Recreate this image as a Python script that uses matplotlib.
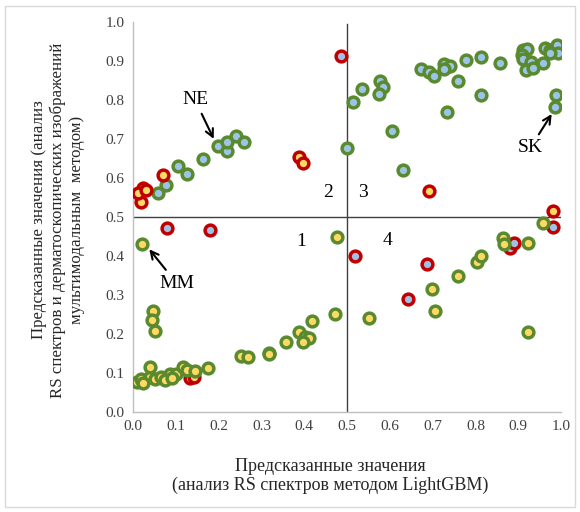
import matplotlib
matplotlib.use("Agg")
import matplotlib.pyplot as plt
from matplotlib.patches import Rectangle

plt.rcParams['font.family'] = ['Liberation Serif', 'DejaVu Serif']

# Correct, high-confidence predictions (green edge, blue fill)
gb_x = [0.058, 0.078, 0.104, 0.125, 0.163, 0.199, 0.219, 0.22, 0.241, 0.259,
        0.5, 0.513, 0.534, 0.577, 0.585, 0.575, 0.604, 0.632, 0.674, 0.692,
        0.704, 0.727, 0.741, 0.727, 0.76, 0.733, 0.778, 0.812, 0.812, 0.857,
        0.912, 0.92, 0.908, 0.912, 0.931, 0.918, 0.935, 0.959, 0.963, 0.974,
        0.99, 0.994, 0.974, 0.988, 0.986]
gb_y = [0.561, 0.582, 0.632, 0.61, 0.648, 0.682, 0.67, 0.693, 0.708, 0.693,
        0.676, 0.796, 0.828, 0.849, 0.834, 0.815, 0.721, 0.62, 0.879, 0.871,
        0.862, 0.892, 0.887, 0.879, 0.849, 0.768, 0.902, 0.91, 0.814, 0.894,
        0.928, 0.93, 0.915, 0.904, 0.898, 0.877, 0.882, 0.894, 0.933, 0.928,
        0.941, 0.92, 0.92, 0.813, 0.781]

# Misclassified (red edge, blue fill)
rb_x = [0.485, 0.08, 0.18, 0.519, 0.688, 0.643, 0.881, 0.89, 0.981]
rb_y = [0.913, 0.471, 0.467, 0.4, 0.379, 0.291, 0.42, 0.434, 0.474]

# Misclassified (red edge, yellow fill)
ry_x = [0.018, 0.023, 0.012, 0.031, 0.07, 0.388, 0.398, 0.692, 0.982, 0.133, 0.143]
ry_y = [0.539, 0.574, 0.561, 0.569, 0.608, 0.655, 0.638, 0.567, 0.516, 0.087, 0.09]

# Correct (green edge, yellow fill)
gy_x = [0.02, 0.476, 0.046, 0.044, 0.051, 0.472, 0.418, 0.389, 0.402, 0.412,
        0.398, 0.357, 0.318, 0.317, 0.252, 0.269, 0.175, 0.010, 0.019, 0.039,
        0.039, 0.051, 0.066, 0.086, 0.101, 0.117, 0.125, 0.144, 0.023, 0.074,
        0.09, 0.552, 0.698, 0.706, 0.76, 0.803, 0.812, 0.865, 0.867, 0.924,
        0.922, 0.959]
gy_y = [0.432, 0.448, 0.259, 0.235, 0.208, 0.251, 0.234, 0.206, 0.193, 0.189,
        0.18, 0.18, 0.152, 0.148, 0.144, 0.142, 0.112, 0.078, 0.084, 0.091,
        0.115, 0.084, 0.091, 0.097, 0.097, 0.116, 0.108, 0.106, 0.075, 0.082,
        0.086, 0.242, 0.315, 0.26, 0.35, 0.384, 0.4, 0.445, 0.432, 0.434,
        0.206, 0.485]

ticks = [0.0, 0.1, 0.2, 0.3, 0.4, 0.5, 0.6, 0.7, 0.8, 0.9, 1.0]
tick_labels = [f"{t:.1f}" for t in ticks]

GREEN = "#5a8a2e"
RED = "#c00000"
BLUE = "#9dc3e6"
YELLOW = "#ffd966"

fig = plt.figure(figsize=(5.8, 5.12), dpi=100)
ax = fig.add_axes([133 / 580, 1 - 412 / 512, 428 / 580, 390 / 512])

# Quadrant dividers
ax.plot([0, 1], [0.5, 0.5], color="#404040", lw=1.0, zorder=1)
ax.plot([0.5, 0.5], [0, 0.995], color="#404040", lw=1.0, zorder=1)

ms = 60
ew = 2.5
ax.scatter(gb_x, gb_y, s=ms, facecolor=BLUE, edgecolor=GREEN, linewidths=ew, zorder=3)
ax.scatter(rb_x, rb_y, s=ms, facecolor=BLUE, edgecolor=RED, linewidths=ew, zorder=3)
ax.scatter(ry_x, ry_y, s=ms, facecolor=YELLOW, edgecolor=RED, linewidths=ew, zorder=3)
ax.scatter(gy_x, gy_y, s=ms, facecolor=YELLOW, edgecolor=GREEN, linewidths=ew, zorder=3)

ax.set_xlim(0, 1)
ax.set_ylim(0, 1)
ax.set_xticks(ticks)
ax.set_xticklabels(tick_labels)
ax.set_yticks(ticks)
ax.set_yticklabels(tick_labels)
ax.tick_params(length=0, labelsize=11, pad=6, colors="#404040")
for side in ("top", "right"):
    ax.spines[side].set_visible(False)
for side in ("left", "bottom"):
    ax.spines[side].set_color("#bfbfbf")
    ax.spines[side].set_linewidth(1.0)

# Quadrant numbers
for txt, qx, qy in [("1", 0.392, 0.437), ("2", 0.456, 0.562),
                    ("3", 0.538, 0.562), ("4", 0.595, 0.441)]:
    ax.text(qx, qy, txt, fontsize=14, ha="center", va="center", color="black")

# Class annotations
arrow = dict(arrowstyle="->", color="black", lw=1.5, mutation_scale=14,
             shrinkA=2, shrinkB=1)
ax.annotate("NE", xy=(0.19, 0.697), xytext=(0.145, 0.8), fontsize=14,
            ha="center", va="center", arrowprops=arrow)
ax.annotate("SK", xy=(0.98, 0.767), xytext=(0.928, 0.677), fontsize=14,
            ha="center", va="center", arrowprops=arrow)
ax.annotate("MM", xy=(0.036, 0.42), xytext=(0.102, 0.33), fontsize=14,
            ha="center", va="center", arrowprops=arrow)

# Axis titles
fig.text(58 / 580, 1 - 220 / 512,
         "Предсказанные значения (анализ\n"
         "RS спектров и дерматоскопических изображений\n"
         "мультимодальным  методом)",
         rotation=90, ha="center", va="center", fontsize=12.2,
         linespacing=1.25, color="#262626")
fig.text(330 / 580, 1 - 476 / 512,
         "Предсказанные значения\n(анализ RS спектров методом LightGBM)",
         ha="center", va="center", fontsize=13, linespacing=1.15,
         color="#262626")

# Chart border
fig.patches.append(Rectangle((5 / 580, 5 / 512), 570 / 580, 501 / 512,
                             transform=fig.transFigure, fill=False,
                             edgecolor="#d9d9d9", lw=1.0))

fig.savefig("out.png", dpi=100)
